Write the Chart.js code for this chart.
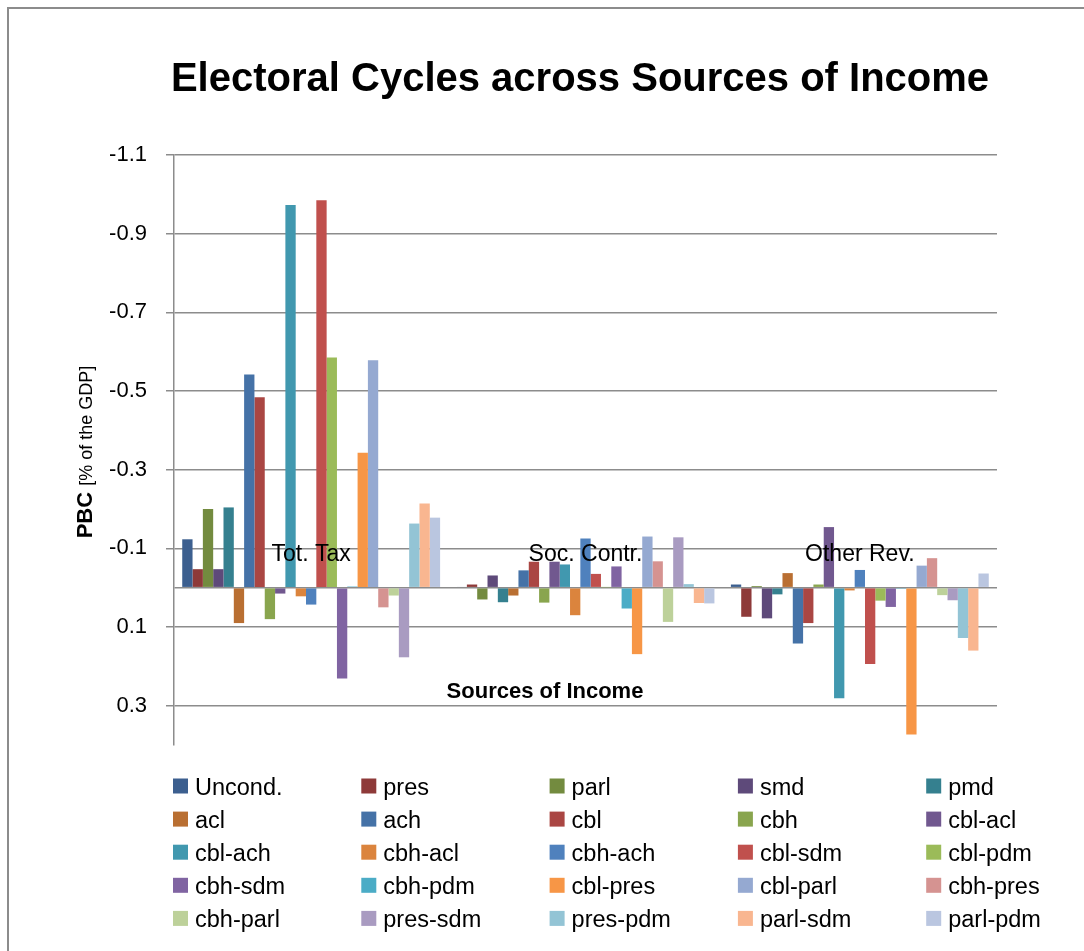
<!DOCTYPE html>
<html>
<head>
<meta charset="utf-8">
<title>Electoral Cycles across Sources of Income</title>
<script src="https://cdn.jsdelivr.net/npm/chart.js@4.4.1/dist/chart.umd.min.js"></script>
<style>
  html, body { margin: 0; padding: 0; background: #fff; }
  canvas { display: block; }
</style>
</head>
<body>
<canvas id="pbc-chart" width="1084" height="951"></canvas>
<script>
// Sources of income (x categories)
const categories = ['Tot. Tax', 'Soc. Contr.', 'Other Rev.'];

// Series, in legend order
const seriesNames = [
  'Uncond.', 'pres', 'parl', 'smd', 'pmd',
  'acl', 'ach', 'cbl', 'cbh', 'cbl-acl',
  'cbl-ach', 'cbh-acl', 'cbh-ach', 'cbl-sdm', 'cbl-pdm',
  'cbh-sdm', 'cbh-pdm', 'cbl-pres', 'cbl-parl', 'cbh-pres',
  'cbh-parl', 'pres-sdm', 'pres-pdm', 'parl-sdm', 'parl-pdm'
];

const seriesColors = [
  '#3C5F8F', '#8E3A39', '#738B3F', '#5E4A7A', '#35808F',
  '#B96F32', '#4572A7', '#AA4643', '#89A54E', '#71588F',
  '#4198AF', '#DB843D', '#4F81BD', '#C0504D', '#9BBB59',
  '#8064A2', '#4BACC6', '#F79646', '#95A9D1', '#D59391',
  '#BDD19A', '#A99BC1', '#93C4D5', '#F9B690', '#BAC6E0'
];

// PBC [% of the GDP], one value per series
const totTax = [
  -0.123, -0.047, -0.200, -0.047, -0.204,
  0.090, -0.542, -0.484, 0.080, 0.015,
  -0.973, 0.022, 0.043, -0.985, -0.585,
  0.231, -0.003, -0.343, -0.578, 0.050,
  0.020, 0.177, -0.163, -0.214, -0.178
];
const socContr = [
  -0.002, -0.008, 0.030, -0.031, 0.037,
  0.020, -0.044, -0.066, 0.038, -0.066,
  -0.059, 0.070, -0.125, -0.035, -0.001,
  -0.054, 0.053, 0.169, -0.130, -0.067,
  0.087, -0.128, -0.009, 0.039, 0.040
];
const otherRev = [
  -0.008, 0.074, -0.004, 0.078, 0.017,
  -0.037, 0.142, 0.090, -0.008, -0.154,
  0.281, 0.007, -0.045, 0.194, 0.033,
  0.049, 0.001, 0.373, -0.056, -0.075,
  0.019, 0.032, 0.128, 0.160, -0.036
];

// Y axis (reversed), 0 only carries the gridline
const yTickValues = [-1.1, -0.9, -0.7, -0.5, -0.3, -0.1, 0, 0.1, 0.3];
const yTickLabels = ['-1.1', '-0.9', '-0.7', '-0.5', '-0.3', '-0.1', '', '0.1', '0.3'];

const FONT = '"Liberation Sans", Arial, sans-serif';
const GRID = '#8c8c8c';

// Title, axis titles, category labels, legend grid and outer frame
const decorations = {
  id: 'decorations',
  beforeDraw(chart) {
    const ctx = chart.ctx;
    ctx.save();
    ctx.strokeStyle = GRID;
    ctx.lineWidth = 2;
    ctx.beginPath();
    ctx.moveTo(8, chart.height);
    ctx.lineTo(8, 8);
    ctx.lineTo(chart.width, 8);
    ctx.stroke();
    ctx.restore();
  },
  afterDraw(chart) {
    const ctx = chart.ctx;
    const xs = chart.scales.x;
    const ys = chart.scales.y;
    ctx.save();
    ctx.fillStyle = '#000';
    ctx.textBaseline = 'alphabetic';

    ctx.textAlign = 'center';
    ctx.font = 'bold 40px ' + FONT;
    ctx.fillText('Electoral Cycles across Sources of Income', 580, 91);

    const zeroY = ys.getPixelForValue(0);
    ctx.font = '23px ' + FONT;
    categories.forEach((c, i) => ctx.fillText(c, xs.getPixelForValue(i), zeroY - 27));

    ctx.font = 'bold 22px ' + FONT;
    ctx.fillText('Sources of Income', 545, 698);

    // y title: bold "PBC" followed by regular text
    ctx.save();
    ctx.translate(92, 452);
    ctx.rotate(-Math.PI / 2);
    ctx.textAlign = 'left';
    ctx.font = 'bold 22px ' + FONT;
    const w1 = ctx.measureText('PBC ').width;
    ctx.font = '18px ' + FONT;
    const w2 = ctx.measureText('[% of the GDP]').width;
    const start = -(w1 + w2) / 2;
    ctx.font = 'bold 22px ' + FONT;
    ctx.fillText('PBC ', start, 0);
    ctx.font = '18px ' + FONT;
    ctx.fillText('[% of the GDP]', start + w1, 0);
    ctx.restore();

    // legend, 5 columns
    ctx.textAlign = 'left';
    ctx.font = '23.5px ' + FONT;
    chart.data.datasets.forEach((ds, i) => {
      const col = i % 5;
      const row = Math.floor(i / 5);
      const x = 173 + col * 188.3;
      const cy = 786 + row * 33.1;
      ctx.fillStyle = ds.backgroundColor;
      ctx.fillRect(x, cy - 7.5, 15, 15);
      ctx.fillStyle = '#000';
      ctx.fillText(ds.label, x + 22, cy + 8.5);
    });
    ctx.restore();
  }
};

new Chart(document.getElementById('pbc-chart'), {
  type: 'bar',
  data: {
    labels: categories,
    datasets: seriesNames.map((name, i) => ({
      label: name,
      data: [totTax[i], socContr[i], otherRev[i]],
      backgroundColor: seriesColors[i],
      borderWidth: 0,
      categoryPercentage: 0.94,
      barPercentage: 1.0
    }))
  },
  options: {
    responsive: false,
    animation: false,
    devicePixelRatio: 1,
    layout: { padding: { left: 0, right: 87, top: 155, bottom: 206 } },
    plugins: {
      legend: { display: false },
      title: { display: false },
      tooltip: { enabled: false }
    },
    scales: {
      x: { display: false },
      y: {
        reverse: true,
        min: -1.1,
        max: 0.4,
        afterBuildTicks: (scale) => { scale.ticks = yTickValues.map(v => ({ value: v })); },
        afterFit: (scale) => { scale.width = 174; },
        ticks: {
          autoSkip: false,
          padding: 19,
          color: '#000',
          font: { family: FONT, size: 22 },
          callback: (value, index) => yTickLabels[index]
        },
        grid: {
          color: GRID,
          lineWidth: 1.5,
          tickLength: 8,
          tickColor: (c) => (c.tick && c.tick.value === 0 ? 'rgba(0,0,0,0)' : GRID)
        },
        border: { color: GRID, width: 1.5 }
      }
    }
  },
  plugins: [decorations]
});
</script>
</body>
</html>
